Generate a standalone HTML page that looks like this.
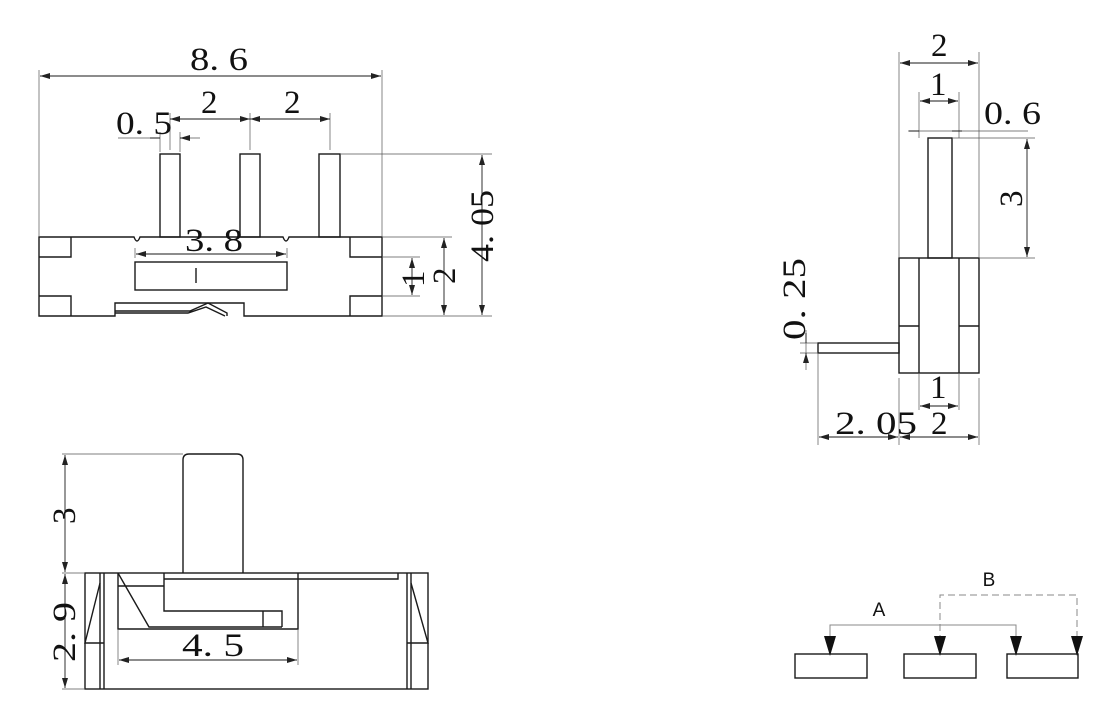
<!DOCTYPE html>
<html><head><meta charset="utf-8"><style>
html,body{margin:0;padding:0;background:#fff}
svg{display:block}
text{font-family:"Liberation Serif",serif;fill:#111}
</style></head><body>
<svg width="1120" height="722" viewBox="0 0 1120 722" xmlns="http://www.w3.org/2000/svg">
<defs>
<marker id="a" viewBox="0 0 10 6" refX="10" refY="3" markerWidth="10" markerHeight="6" orient="auto-start-reverse" markerUnits="userSpaceOnUse"><path d="M0,0L10,3L0,6z" fill="#222"/></marker>
</defs>
<g fill="none" stroke="#1a1a1a" stroke-width="1.4">
<path d="M39,237H134 q3,8 6,0 H283 q3,8 6,0 H382 V316 H244 V303 H115 V316 H39 Z"/>
<path d="M39,257H71V237 M39,296H71V316 M382,257H350V237 M382,296H350V316"/>
<rect x="160" y="154" width="20" height="83"/>
<rect x="240" y="154" width="20" height="83"/>
<rect x="319" y="154" width="21" height="83"/>
<rect x="135" y="262" width="152" height="28"/>
<path d="M196,268V283"/>
<path d="M115,311H190L208,303L227,313V316 M115,313H188L206,307L225,316"/>
<g stroke-width="0.7" stroke="#555">
<path d="M39,236V70 M382,236V70"/>
<path d="M170,150V113 M250,150V113 M330,150V113"/>
<path d="M160,152V132 M180,152V132 M118,138H160 M180,138H200"/>
<path d="M340,154H492 M382,316H492 M382,237H452 M382,257H420 M382,296H420"/>
<path d="M135,248V258 M287,248V258"/>
</g>
<g stroke-width="0.9" marker-start="url(#a)" marker-end="url(#a)">
<path d="M40,76H381"/>
<path d="M170,119H250"/><path d="M250,119H330"/>
<path d="M136,254H286"/>
<path d="M482,155V315"/>
<path d="M444,238V315"/>
<path d="M412,258V295"/>
</g>
<path d="M150,138H160 M190,138H180" stroke-width="0.9" marker-end="url(#a)"/>

<rect x="928" y="138" width="24" height="120"/>
<rect x="899" y="258" width="80" height="115"/>
<path d="M919,258V373 M959,258V373 M899,326H919 M959,326H979"/>
<rect x="818" y="343" width="81" height="10"/>
<g stroke-width="0.7" stroke="#555">
<path d="M899,258V52 M979,258V52 M919,138V92 M959,138V92 M908,131H1028 M952,138H1035 M979,258H1035"/>
<path d="M818,343H800 M818,353H800 M806,330V370"/>
<path d="M919,373V410 M959,373V410 M899,378V445 M979,378V445 M818,353V445"/>
</g>
<g stroke-width="0.9" marker-start="url(#a)" marker-end="url(#a)">
<path d="M900,63H978"/><path d="M920,101H958"/>
<path d="M1027,139V257"/>
<path d="M920,406H958"/>
<path d="M819,437H898"/><path d="M900,437H978"/>
</g>
<path d="M909,131H919 M962,131H952 M806,333V343 M806,363V353" stroke-width="0.9" marker-end="url(#a)"/>

<path d="M183,573V460q0,-6 6,-6H237q6,0 6,6V573"/>
<rect x="85" y="573" width="343" height="116"/>
<path d="M100,573V689 M104,573V689 M407,573V689 M411,573V689"/>
<path d="M100,583L85,643H104 M411,583L428,643H407"/>
<path d="M118,573V629H298V573"/>
<path d="M164,573V611H282V627 M263,611V627 M164,579H398V573 M118,586H164 M118,573L149,627H282"/>
<g stroke-width="0.7" stroke="#555">
<path d="M62,454H183 M62,573H85 M62,689H85 M118,629V665 M298,629V665"/>
</g>
<g stroke-width="0.9" marker-start="url(#a)" marker-end="url(#a)">
<path d="M65,455V572"/><path d="M65,574V688"/>
<path d="M119,660H297"/>
</g>

<rect x="795" y="654" width="72" height="24"/>
<rect x="904" y="654" width="72" height="24"/>
<rect x="1007" y="654" width="71" height="24"/>
<g stroke="#888" stroke-width="1">
<path d="M830,642V625H1016V642"/>
<path d="M940,642V595H1077V642" stroke-dasharray="7,4"/>
</g>
</g>
<g fill="#111">
<path d="M824,636H836L830,656Z M934,636H946L940,656Z M1010,636H1022L1016,656Z M1071,636H1083L1077,656Z"/>
</g>
<text x="879" y="616" font-size="19" text-anchor="middle" style="font-family:'Liberation Sans',sans-serif">A</text>
<text x="989" y="586" font-size="19" text-anchor="middle" style="font-family:'Liberation Sans',sans-serif">B</text>

<g font-size="33">
<text x="190" y="70" textLength="58" lengthAdjust="spacingAndGlyphs">8. 6</text>
<text x="201" y="113">2</text>
<text x="284" y="113">2</text>
<text x="116" y="134" textLength="56" lengthAdjust="spacingAndGlyphs">0. 5</text>
<text x="185" y="251" textLength="58" lengthAdjust="spacingAndGlyphs">3. 8</text>
<text transform="translate(493,262) rotate(-90)" textLength="72" lengthAdjust="spacingAndGlyphs">4. 05</text>
<text transform="translate(455,284) rotate(-90)">2</text>
<text transform="translate(424,287) rotate(-90)">1</text>
<text x="931" y="56">2</text>
<text x="930" y="95">1</text>
<text x="984" y="124" textLength="57" lengthAdjust="spacingAndGlyphs">0. 6</text>
<text transform="translate(1022,207) rotate(-90)">3</text>
<text transform="translate(805,340) rotate(-90)" textLength="82" lengthAdjust="spacingAndGlyphs">0. 25</text>
<text x="930" y="398">1</text>
<text x="835" y="434" textLength="82" lengthAdjust="spacingAndGlyphs">2. 05</text>
<text x="931" y="434">2</text>
<text transform="translate(75,524) rotate(-90)">3</text>
<text transform="translate(75,662) rotate(-90)" textLength="60" lengthAdjust="spacingAndGlyphs">2. 9</text>
<text x="182" y="656" textLength="62" lengthAdjust="spacingAndGlyphs">4. 5</text>
</g>
</svg>
</body></html>
